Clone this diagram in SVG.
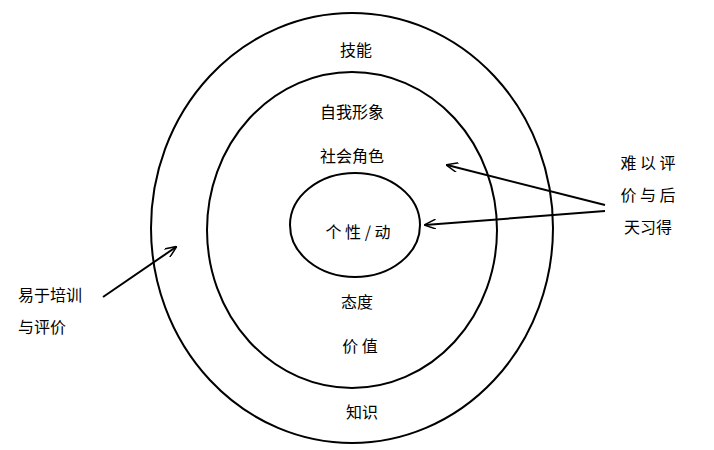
<svg xmlns="http://www.w3.org/2000/svg" width="714" height="450" viewBox="0 0 714 450">
<style>
.c{fill:none;stroke:#000;stroke-width:2}
text{font-family:"Noto Sans CJK SC","Liberation Sans",sans-serif;font-size:16px;fill:#000;text-anchor:middle}
.a{stroke:#000;stroke-width:2;fill:none;marker-end:url(#m)}
</style>
<defs><marker id="m" markerWidth="12" markerHeight="10" refX="11" refY="5" orient="auto" markerUnits="userSpaceOnUse"><path d="M0,0 L12,5 L0,10" fill="none" stroke="#000" stroke-width="1.5"/></marker></defs>
<rect width="714" height="450" fill="#fff"/>
<g id="outer"><ellipse class="c" cx="352" cy="228" rx="201" ry="215"/><text x="356" y="56">技能</text><text x="362" y="418">知识</text></g>
<g id="middle"><ellipse class="c" cx="352" cy="230" rx="145" ry="158"/><text x="352" y="118">自我形象</text><text x="352" y="162">社会角色</text><text x="357" y="308">态度</text><text x="360" y="352">价 值</text></g>
<g id="inner"><ellipse class="c" cx="355" cy="225" rx="65" ry="52"/><text x="358" y="238">个 性 / 动</text></g>
<g id="left"><text x="50" y="301">易于培训</text><text x="42" y="333">与评价</text></g>
<g id="right"><text x="648" y="169">难 以 评</text><text x="648" y="201">价 与 后</text><text x="648" y="233">天习得</text></g>
<g id="connectors">
<path class="a" d="M605,205 L447,165"/>
<path class="a" d="M605,211 L425,225"/>
<path class="a" d="M103,297 L176,247"/>
</g>
</svg>
